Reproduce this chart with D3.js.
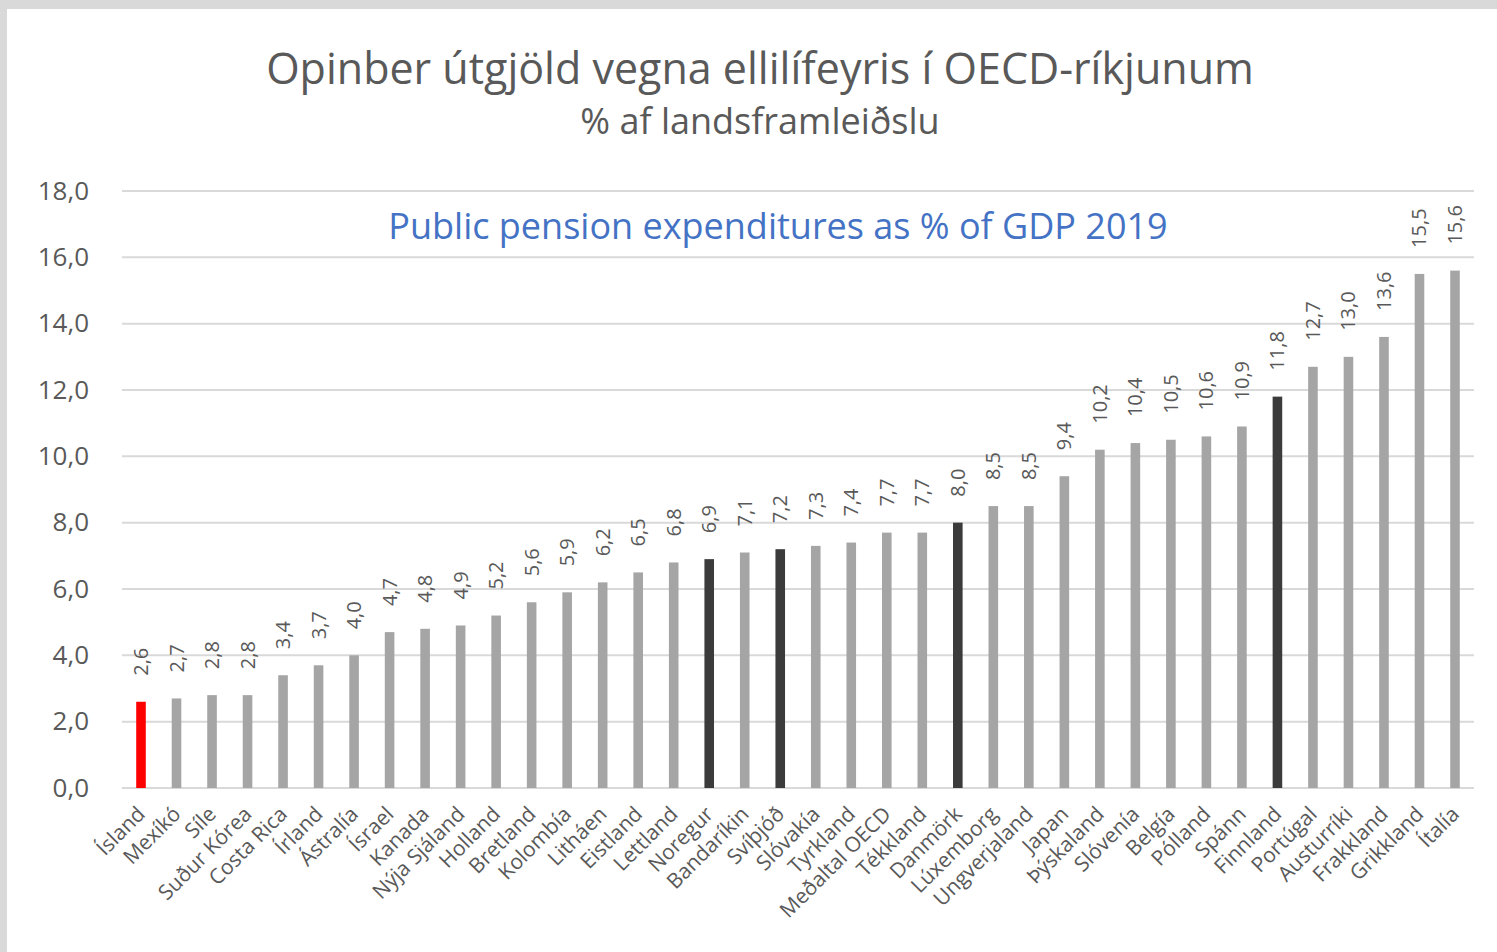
<!DOCTYPE html>
<html>
<head>
<meta charset="utf-8">
<script src="https://cdn.jsdelivr.net/npm/d3@7"></script>
<style>
  html, body { margin: 0; padding: 0; background: #d9d9d9; }
  #chart { position: absolute; left: 7px; top: 9px; width: 1490px; height: 943px; background: #fff; }
  svg { display: block; }
</style>
</head>
<body>
<div id="chart"></div>
<script>
    // -------------------------------
    // Data
    // -------------------------------
    const countries = [
      'Ísland', 'Mexíkó', 'Síle', 'Suður Kórea', 'Costa Rica', 'Írland', 'Ástralía',
      'Ísrael', 'Kanada', 'Nýja Sjáland', 'Holland', 'Bretland', 'Kolombía', 'Litháen',
      'Eistland', 'Lettland', 'Noregur', 'Bandaríkin', 'Svíþjóð', 'Slóvakía', 'Tyrkland',
      'Meðaltal OECD', 'Tékkland', 'Danmörk', 'Lúxemborg', 'Ungverjaland', 'Japan',
      'Þýskaland', 'Slóvenía', 'Belgía', 'Pólland', 'Spánn', 'Finnland', 'Portúgal',
      'Austurríki', 'Frakkland', 'Grikkland', 'Ítalía'
    ];
    const values = [
      2.6, 2.7, 2.8, 2.8, 3.4, 3.7, 4.0,
      4.7, 4.8, 4.9, 5.2, 5.6, 5.9, 6.2,
      6.5, 6.8, 6.9, 7.1, 7.2, 7.3, 7.4,
      7.7, 7.7, 8.0, 8.5, 8.5, 9.4,
      10.2, 10.4, 10.5, 10.6, 10.9, 11.8, 12.7,
      13.0, 13.6, 15.5, 15.6
    ];
    // highlighted countries
    const redCountries = ['Ísland'];
    const darkCountries = ['Noregur', 'Svíþjóð', 'Danmörk', 'Finnland'];
    const yTicks = [0, 2, 4, 6, 8, 10, 12, 14, 16, 18];

    const data = countries.map((c, i) => ({ country: c, value: values[i] }));

    // -------------------------------
    // Setup (coordinates relative to the white panel)
    // -------------------------------
    const W = 1490, H = 943;
    const ox = 7, oy = 9; // panel offset on the page
    const svg = d3.select('#chart').append('svg')
      .attr('width', W)
      .attr('height', H);

    const fmt = v => d3.format('.1f')(v).replace('.', ',');
    const textColor = '#595959';
    const font = "'Open Sans', 'DejaVu Sans', sans-serif";

    const x = d3.scaleBand()
      .domain(countries)
      .range([122 - ox, 1474 - ox])
      .paddingInner(0.73)
      .paddingOuter(0.4);

    const y = d3.scaleLinear()
      .domain([0, 18])
      .range([788 - oy, 191 - oy]);

    // Titles
    svg.append('text')
      .attr('x', 760 - ox)
      .attr('y', 84 - oy)
      .attr('text-anchor', 'middle')
      .style('font-family', font)
      .style('font-size', '43px')
      .style('fill', textColor)
      .text('Opinber útgjöld vegna ellilífeyris í OECD-ríkjunum');

    svg.append('text')
      .attr('x', 760 - ox)
      .attr('y', 134 - oy)
      .attr('text-anchor', 'middle')
      .style('font-family', font)
      .style('font-size', '36px')
      .style('fill', textColor)
      .text('% af landsframleiðslu');

    // Gridlines
    svg.append('g')
      .selectAll('line')
      .data(yTicks)
      .enter().append('line')
        .attr('x1', 122 - ox)
        .attr('x2', 1474 - ox)
        .attr('y1', d => y(d))
        .attr('y2', d => y(d))
        .style('stroke', '#d9d9d9')
        .style('stroke-width', 2);

    // Y axis labels
    const yAxis = svg.append('g')
      .attr('transform', `translate(${89 - ox},0)`)
      .call(d3.axisLeft(y).tickValues(yTicks).tickFormat(fmt).tickSize(0).tickPadding(0));
    yAxis.select('.domain').remove();
    yAxis.selectAll('text')
      .style('font-family', font)
      .style('font-size', '26px')
      .style('fill', textColor);

    // Bars
    svg.append('g')
      .selectAll('rect')
      .data(data)
      .enter().append('rect')
        .attr('x', d => x(d.country))
        .attr('width', x.bandwidth())
        .attr('y', d => y(d.value))
        .attr('height', d => y(0) - y(d.value))
        .style('fill', d => redCountries.includes(d.country) ? '#ff0000'
          : darkCountries.includes(d.country) ? '#3b3b3b' : '#a5a5a5');

    // Value labels (rotated)
    svg.append('g')
      .selectAll('text')
      .data(data)
      .enter().append('text')
        .attr('transform', d => `translate(${x(d.country) + x.bandwidth() / 2},${y(d.value) - 26}) rotate(-90)`)
        .attr('dy', '0.35em')
        .style('font-family', font)
        .style('font-size', '20px')
        .style('fill', textColor)
        .text(d => fmt(d.value));

    // X axis labels (rotated 45)
    svg.append('g')
      .selectAll('text')
      .data(data)
      .enter().append('text')
        .attr('transform', d => `translate(${x(d.country) + x.bandwidth() / 2 - 2},${y(0) + 20}) rotate(-45)`)
        .attr('text-anchor', 'end')
        .attr('dy', '0.5em')
        .style('font-family', font)
        .style('font-size', '21px')
        .style('fill', textColor)
        .text(d => d.country);

    // Blue annotation
    svg.append('text')
      .attr('x', 778 - ox)
      .attr('y', 239 - oy)
      .attr('text-anchor', 'middle')
      .style('font-family', font)
      .style('font-size', '36px')
      .style('fill', '#4472c4')
      .text('Public pension expenditures as % of GDP 2019');
</script>
</body>
</html>
